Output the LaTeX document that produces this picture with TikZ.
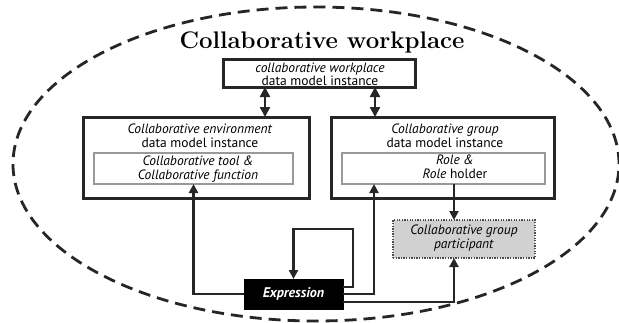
\documentclass[tikz,border=0pt]{standalone}
\usepackage{fontspec}
\newfontfamily\ptsans{PT Sans}
\usetikzlibrary{arrows.meta,calc}

\begin{document}
\begin{tikzpicture}[x=1pt,y=-1pt,
  every node/.style={inner sep=0pt, outer sep=0pt},
  % multi-line labels are placed by the baseline of their last line
  txt/.style={font=\ptsans\fontsize{13.5}{14}\selectfont, align=center, anchor=base},
  outerbox/.style={draw=black!85, line width=3pt, fill=white},
  innerbox/.style={draw=black!40, line width=1.3pt, fill=white},
  conn/.style={line width=2.2pt, draw=black!85, -{Triangle[length=9pt,width=9pt]}},
  dblconn/.style={line width=2.2pt, draw=black!85,
    {Triangle[length=10pt,width=10pt]}-{Triangle[length=10pt,width=10pt]}},
]
\useasboundingbox (0,0) rectangle (619,322);

% the workplace boundary
\draw[black!85, line width=2.8pt, dash pattern=on 12pt off 7pt]
  (316,164) ellipse [x radius=303pt, y radius=157pt];

\node[font=\bfseries\fontsize{24}{24}\selectfont, anchor=base] (title) at (322,48)
  {Collaborative workplace};

% workplace data model
\node[outerbox, minimum width=192pt, minimum height=28pt] (wp) at (319,73) {};
\node[txt, font=\ptsans\fontsize{13.5}{12.5}\selectfont] (wptext) at (320,85)
  {\textit{collaborative workplace}\\data model instance};

% environment data model
\node[outerbox, minimum width=226pt, minimum height=81pt] (env) at (196,157.5) {};
\node[innerbox, minimum width=199pt, minimum height=31pt] (envin) at (193.5,168.5) {};
\node[txt] (envtext) at (200,147)
  {\textit{Collaborative environment}\\data model instance};
\node[txt] (envintext) at (198,179)
  {\textit{Collaborative tool \&}\\\textit{Collaborative function}};

% group data model
\node[outerbox, minimum width=223pt, minimum height=81pt] (grp) at (442.5,157.5) {};
\node[innerbox, minimum width=203pt, minimum height=31pt] (grpin) at (443.5,168.5) {};
\node[txt] (grptext) at (445,147)
  {\textit{Collaborative group}\\data model instance};
\node[txt] (grpintext) at (455,178)
  {\textit{Role \&}\\\textit{Role} holder};

% participant
\node[draw=black!70, dash pattern=on 1.3pt off 1.3pt, line width=1.6pt, fill=black!18,
  minimum width=142pt, minimum height=38pt] (part) at (464,239) {};
\node[txt] (parttext) at (464,248)
  {\textit{Collaborative group}\\\textit{participant}};

% expression
\node[fill=black, draw=black, minimum width=99pt, minimum height=30pt, text=white,
  font=\ptsans\bfseries\itshape\fontsize{14}{14}\selectfont] (expr) at (293.5,294)
  {Expression};

\coordinate (loopc) at (353,229);

% connectors
\draw[dblconn] ([xshift=-54pt]wp.south) -- ([xshift=-54pt]wp.south |- env.north);
\draw[dblconn] ([xshift=56pt]wp.south) -- ([xshift=56pt]wp.south |- grp.north);
\draw[conn] (expr.west) -| (envin.south);
\draw[conn] ([yshift=7pt]expr.east) -| (loopc) -| (expr.north);
\draw[conn] (expr.east) -| ([xshift=-69.5pt]grpin.south);
\draw[conn] ([yshift=-8pt]expr.east) -| ([xshift=-10pt]part.south);
\draw[conn] ([xshift=10.5pt]grpin.south) -- ([xshift=-10pt]part.north);
\end{tikzpicture}
\end{document}
